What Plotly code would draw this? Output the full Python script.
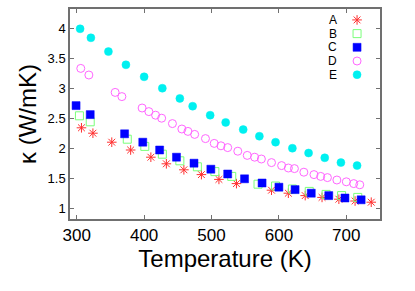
import plotly.graph_objects as go

# ---- data ----
A_T = [307, 324, 352, 380, 410, 433, 459, 485, 511, 537, 589, 614, 639, 664, 689, 713, 737]
A_k = [2.34, 2.25, 2.10, 1.97, 1.85, 1.74, 1.64, 1.56, 1.48, 1.41, 1.30, 1.25, 1.21, 1.18, 1.15, 1.12, 1.10]

B_T = [304, 320, 375, 401, 427, 453, 479, 505, 530, 569, 595, 620, 645, 670, 693, 717]
B_k = [2.54, 2.44, 2.15, 2.03, 1.90, 1.79, 1.69, 1.61, 1.53, 1.40, 1.37, 1.32, 1.28, 1.23, 1.21, 1.18]

C_T = [299, 320, 371, 398, 423, 448, 474, 499, 524, 549, 575, 600, 624, 648, 674, 698, 722]
C_k = [2.71, 2.56, 2.24, 2.10, 1.97, 1.85, 1.75, 1.65, 1.57, 1.49, 1.42, 1.35, 1.31, 1.25, 1.21, 1.17, 1.14]

D_T = [306, 318, 357, 367, 397, 407, 417, 426, 442, 456, 465, 475, 491, 504, 514, 524,
       539, 553, 564, 574, 589, 604, 614, 623, 637, 652, 662, 672, 686, 700, 711, 720]
D_k = [3.33, 3.22, 2.93, 2.86, 2.67, 2.61, 2.55, 2.50, 2.41, 2.32, 2.28, 2.23, 2.16, 2.08, 2.04, 2.01,
       1.95, 1.88, 1.85, 1.82, 1.76, 1.71, 1.67, 1.66, 1.60, 1.56, 1.53, 1.51, 1.47, 1.44, 1.41, 1.39]

E_T = [305, 321, 347, 373, 400, 427, 453, 472, 498, 521, 547, 571, 595, 620, 644, 668, 692, 716]
E_k = [3.99, 3.84, 3.61, 3.39, 3.19, 3.00, 2.83, 2.70, 2.55, 2.43, 2.31, 2.20, 2.10, 2.00, 1.92, 1.84, 1.76, 1.71]

series_names = ["A", "B", "C", "D", "E"]
x_ticks = [300, 400, 500, 600, 700]
y_ticks = [1, 1.5, 2, 2.5, 3, 3.5, 4]
y_tick_labels = ["1", "1.5", "2", "2.5", "3", "3.5", "4"]

# ---- styles ----
styles = {
    "A": dict(symbol="asterisk-open", size=8, color="#ff3030", line=dict(color="#ff3030", width=1)),
    "B": dict(symbol="square-open", size=8, color="#7aff7a", line=dict(color="#7aff7a", width=1)),
    "C": dict(symbol="square", size=8, color="#0000ff", line=dict(color="#0000ff", width=0.5)),
    "D": dict(symbol="circle-open", size=8, color="#ff66ff", line=dict(color="#ff66ff", width=1)),
    "E": dict(symbol="circle", size=8, color="#00f0f0", line=dict(color="#00f0f0", width=0.5)),
}
data = {"A": (A_T, A_k), "B": (B_T, B_k), "C": (C_T, C_k), "D": (D_T, D_k), "E": (E_T, E_k)}

FONT = "Liberation Sans, Arial, Helvetica, sans-serif"
fig = go.Figure()
for name in series_names:
    xs, ys = data[name]
    fig.add_trace(go.Scatter(x=xs, y=ys, mode="markers", name=name, marker=styles[name],
                             showlegend=False))

# gnuplot-style key (label left of symbol) on an overlay 0..1 axis
LEG_X = 0.926
LEG_LABEL_X = 0.868
LEG_Y0 = 0.948
LEG_DY = 0.0652
for i, name in enumerate(series_names):
    yy = LEG_Y0 - i * LEG_DY
    fig.add_trace(go.Scatter(x=[LEG_X], y=[yy], mode="markers", marker=styles[name],
                             xaxis="x2", yaxis="y2", showlegend=False, hoverinfo="skip"))
    fig.add_annotation(x=LEG_LABEL_X, y=yy, xref="paper", yref="paper", text=name,
                       showarrow=False, xanchor="right", yanchor="middle",
                       font=dict(family=FONT, size=12, color="black"))

axis_common = dict(showline=True, linecolor="#707070", linewidth=1.5, mirror="ticks",
                   ticks="inside", ticklen=4, tickcolor="#707070", tickwidth=1,
                   showgrid=False, zeroline=False, automargin=False)

fig.update_layout(
    width=415, height=291,
    margin=dict(l=70, r=35, t=9, b=72),
    paper_bgcolor="white", plot_bgcolor="white",
    font=dict(family=FONT, color="black"),
    xaxis=dict(range=[290, 750], tickvals=x_ticks, tickfont=dict(size=17),
               title=dict(text="Temperature (K)", font=dict(size=24), standoff=2),
               **axis_common),
    yaxis=dict(range=[0.82, 4.32], tickvals=y_ticks, ticktext=y_tick_labels,
               tickfont=dict(size=13),
               title=dict(text="κ (W/mK)", font=dict(size=24), standoff=4),
               **axis_common),
    xaxis2=dict(overlaying="x", range=[0, 1], visible=False, automargin=False),
    yaxis2=dict(overlaying="y", range=[0, 1], visible=False, automargin=False),
)

fig.write_html("out.html", config={"displayModeBar": False},
               post_script="document.body.style.margin='0px';")
